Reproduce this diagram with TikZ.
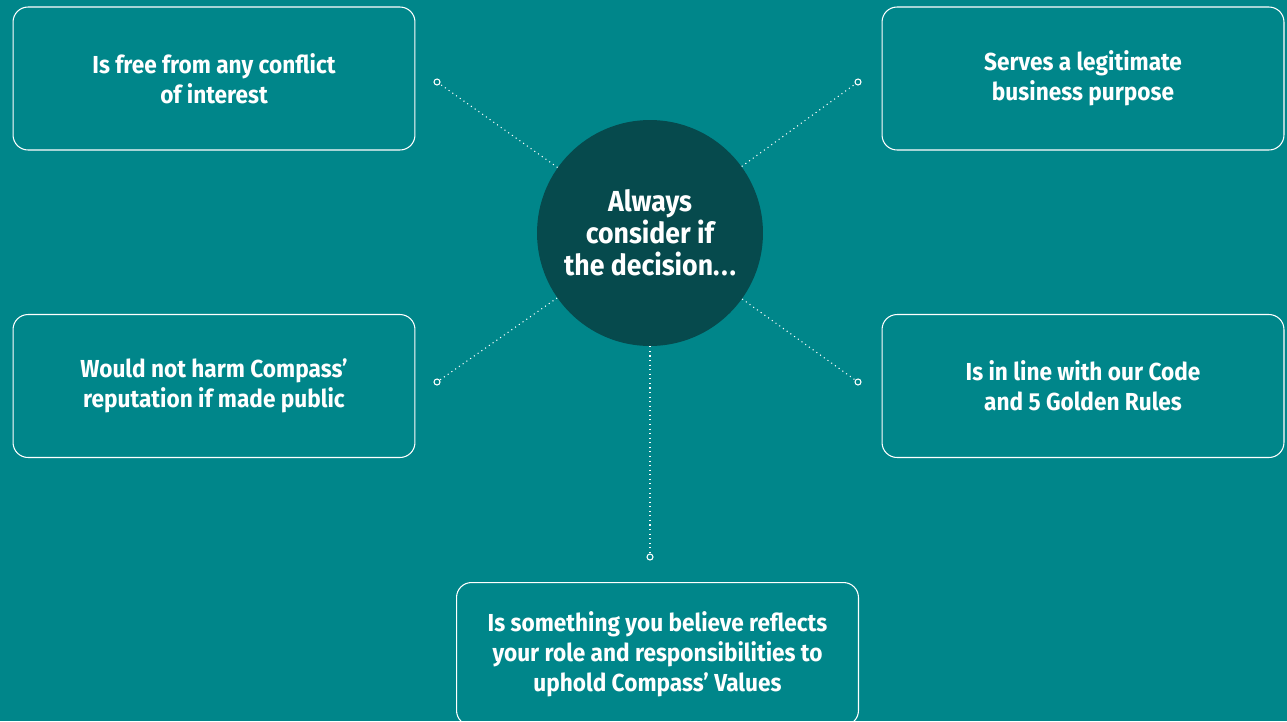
\documentclass[tikz,border=0pt]{standalone}
\usepackage{fontspec}
\setmainfont{Fira Sans}[FakeStretch=0.92]
\usetikzlibrary{positioning}

\definecolor{tealbg}{RGB}{0,134,138}
\definecolor{darkteal}{RGB}{6,74,77}

\tikzset{
	choice/.style={draw=white,line width=0.6pt,rounded corners=0.3cm,
		minimum width=8.04cm,minimum height=2.86cm,align=center,
		text=white,font=\bfseries\fontsize{14}{17}\selectfont},
	hub/.style={circle,fill=darkteal,minimum size=4.52cm,inner sep=0pt,
		align=center,text=white,font=\bfseries\fontsize{16.5}{18.2}\selectfont},
	pin/.style={circle,draw=white,fill=tealbg,line width=0.6pt,
		minimum size=0.12cm,inner sep=0pt},
	link/.style={white,dotted,line width=0.6pt}
}

\begin{document}
\begin{tikzpicture}[x=0.02cm,y=-0.02cm]
	
	\fill[tealbg] (0,0) rectangle (1287,721);
	\useasboundingbox (0,0) rectangle (1287,721);
	
	\node [hub] (decision) at (650,233) {Always\\consider if\\the decision.\kern1pt.\kern1pt.};
	
	\node [choice] (conflict) at (214,78.5) {Is free from any conflict\\of interest};
	\node [choice] (purpose) at (1083,78.5) {Serves a legitimate\\business purpose};
	\node [choice] (reputation) at (214,386) {Would not harm Compass'\\reputation if made public};
	\node [choice] (rules) at (1083,386) {Is in line with our Code\\and 5 Golden Rules};
	\node [choice] (values) at (657.5,654) {Is something you believe reflects\\your role and responsibilities to\\uphold Compass' Values};
	
	\node [pin] (pconflict) at (437,82) {};
	\node [pin] (ppurpose) at (858,82) {};
	\node [pin] (preputation) at (437,382) {};
	\node [pin] (prules) at (858,382) {};
	\node [pin] (pvalues) at (650,557) {};
	
	% dotted spokes
	\draw [link] (decision) -- (pconflict);
	\draw [link] (decision) -- (ppurpose);
	\draw [link] (decision) -- (preputation);
	\draw [link] (decision) -- (prules);
	\draw [link] (decision) -- (pvalues);
	
\end{tikzpicture}
\end{document}
